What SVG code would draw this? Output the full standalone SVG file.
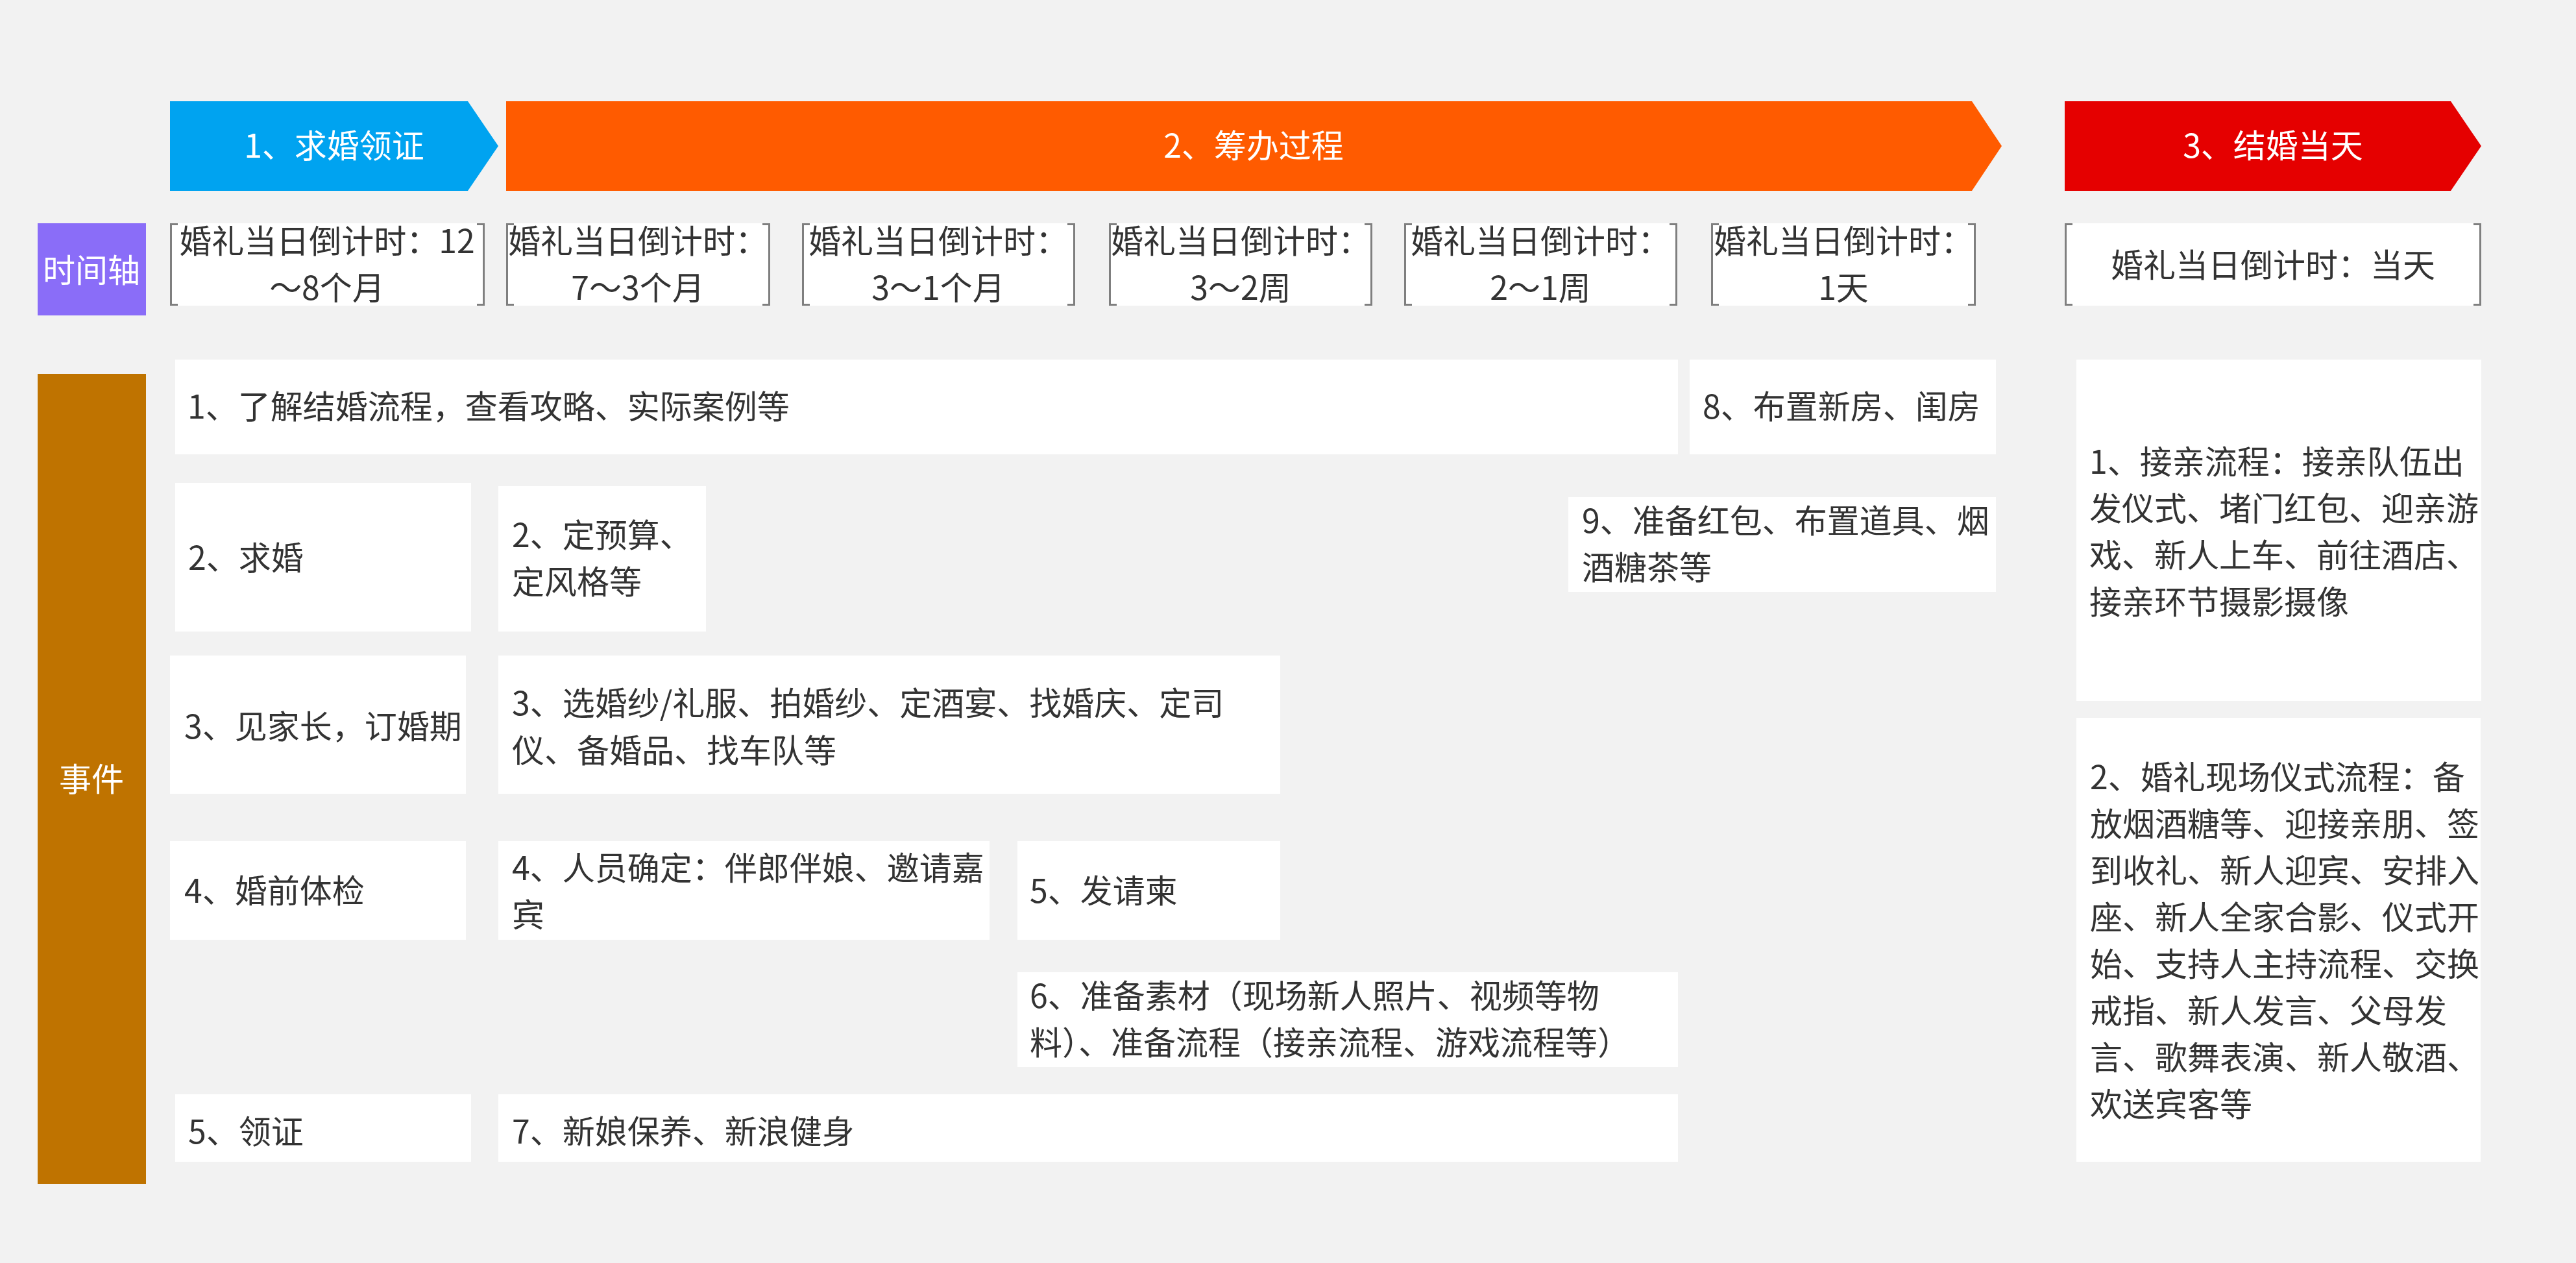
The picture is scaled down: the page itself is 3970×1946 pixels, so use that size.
<svg xmlns="http://www.w3.org/2000/svg" width="3970" height="1946" viewBox="0 0 3970 1946">
<style>
text{font-family:"Noto Sans CJK SC","Noto Sans",sans-serif;font-size:50px}
.w{fill:#ffffff}
.t{fill:#333333}
.c{text-anchor:middle}
.box{fill:#ffffff}
.br{fill:none;stroke:#7f7f7f;stroke-width:3}
</style>
<rect x="0" y="0" width="3970" height="1946" fill="#f2f2f2"/>

<g id="phase1">
<polygon points="262,156 721,156 768,225 721,294 262,294" fill="#00a3f0"/>
<text class="w c" x="515" y="243">1、求婚领证</text>
</g>
<g id="phase2">
<polygon points="780,156 3039,156 3085,225 3039,294 780,294" fill="#ff5b00"/>
<text class="w c" x="1932" y="243">2、筹办过程</text>
</g>
<g id="phase3">
<polygon points="3182,156 3777,156 3824,225 3777,294 3182,294" fill="#e50000"/>
<text class="w c" x="3503" y="243">3、结婚当天</text>
</g>

<g id="timeaxis">
<rect x="58" y="344" width="167" height="142" fill="#8a6df8"/>
<text class="w c" x="141" y="435">时间轴</text>
</g>

<g id="cd1">
<rect class="box" x="262" y="344" width="485" height="127"/>
<path class="br" d="M274,345.5H263.5V469.5H274M735,345.5H745.5V469.5H735"/>
<text class="t c" x="504" y="390">婚礼当日倒计时：12</text>
<text class="t c" x="504" y="462">～8个月</text>
</g>
<g id="cd2">
<rect class="box" x="780" y="344" width="407" height="127"/>
<path class="br" d="M792,345.5H781.5V469.5H792M1175,345.5H1185.5V469.5H1175"/>
<text class="t c" x="983" y="390">婚礼当日倒计时：</text>
<text class="t c" x="983" y="462">7～3个月</text>
</g>
<g id="cd3">
<rect class="box" x="1236" y="344" width="421" height="127"/>
<path class="br" d="M1248,345.5H1237.5V469.5H1248M1645,345.5H1655.5V469.5H1645"/>
<text class="t c" x="1446" y="390">婚礼当日倒计时：</text>
<text class="t c" x="1446" y="462">3～1个月</text>
</g>
<g id="cd4">
<rect class="box" x="1709" y="344" width="406" height="127"/>
<path class="br" d="M1721,345.5H1710.5V469.5H1721M2103,345.5H2113.5V469.5H2103"/>
<text class="t c" x="1912" y="390">婚礼当日倒计时：</text>
<text class="t c" x="1912" y="462">3～2周</text>
</g>
<g id="cd5">
<rect class="box" x="2164" y="344" width="421" height="127"/>
<path class="br" d="M2176,345.5H2165.5V469.5H2176M2573,345.5H2583.5V469.5H2573"/>
<text class="t c" x="2374" y="390">婚礼当日倒计时：</text>
<text class="t c" x="2374" y="462">2～1周</text>
</g>
<g id="cd6">
<rect class="box" x="2637" y="344" width="408" height="127"/>
<path class="br" d="M2649,345.5H2638.5V469.5H2649M3033,345.5H3043.5V469.5H3033"/>
<text class="t c" x="2841" y="390">婚礼当日倒计时：</text>
<text class="t c" x="2841" y="462">1天</text>
</g>
<g id="cd7">
<rect class="box" x="3182" y="344" width="642" height="127"/>
<path class="br" d="M3194,345.5H3183.5V469.5H3194M3812,345.5H3822.5V469.5H3812"/>
<text class="t c" x="3503" y="427">婚礼当日倒计时：当天</text>
</g>

<g id="events">
<rect x="58" y="576" width="167" height="1248" fill="#bf7300"/>
<text class="w c" x="141" y="1219">事件</text>
</g>

<g id="e1">
<rect class="box" x="270" y="554" width="2316" height="146"/>
<text class="t" x="289" y="645">1、了解结婚流程，查看攻略、实际案例等</text>
</g>
<g id="e8">
<rect class="box" x="2604" y="554" width="472" height="146"/>
<text class="t" x="2624" y="645">8、布置新房、闺房</text>
</g>
<g id="e2">
<rect class="box" x="270" y="744" width="456" height="229"/>
<text class="t" x="290" y="878">2、求婚</text>
</g>
<g id="e3">
<rect class="box" x="768" y="749" width="320" height="224"/>
<text class="t" x="789" y="843">2、定预算、</text>
<text class="t" x="789" y="915">定风格等</text>
</g>
<g id="e9">
<rect class="box" x="2417" y="766" width="659" height="146"/>
<text class="t" x="2438" y="821">9、准备红包、布置道具、烟</text>
<text class="t" x="2438" y="893">酒糖茶等</text>
</g>
<g id="e4">
<rect class="box" x="262" y="1010" width="456" height="213"/>
<text class="t" x="284" y="1138">3、见家长，订婚期</text>
</g>
<g id="e5">
<rect class="box" x="768" y="1010" width="1205" height="213"/>
<text class="t" x="789" y="1102">3、选婚纱/礼服、拍婚纱、定酒宴、找婚庆、定司</text>
<text class="t" x="789" y="1175">仪、备婚品、找车队等</text>
</g>
<g id="e6">
<rect class="box" x="262" y="1296" width="456" height="152"/>
<text class="t" x="284" y="1391">4、婚前体检</text>
</g>
<g id="e7">
<rect class="box" x="768" y="1296" width="757" height="152"/>
<text class="t" x="789" y="1356">4、人员确定：伴郎伴娘、邀请嘉</text>
<text class="t" x="789" y="1428">宾</text>
</g>
<g id="e10">
<rect class="box" x="1568" y="1296" width="405" height="152"/>
<text class="t" x="1587" y="1391">5、发请柬</text>
</g>
<g id="e11">
<rect class="box" x="1568" y="1498" width="1018" height="146"/>
<text class="t" x="1587" y="1553">6、准备素材（现场新人照片、视频等物</text>
<text class="t" x="1587" y="1625">料）、准备流程（接亲流程、游戏流程等）</text>
</g>
<g id="e12">
<rect class="box" x="270" y="1686" width="456" height="104"/>
<text class="t" x="290" y="1762">5、领证</text>
</g>
<g id="e13">
<rect class="box" x="768" y="1686" width="1818" height="104"/>
<text class="t" x="789" y="1762">7、新娘保养、新浪健身</text>
</g>

<g id="r1">
<rect class="box" x="3200" y="554" width="624" height="526"/>
<text class="t" x="3220" y="730">1、接亲流程：接亲队伍出</text>
<text class="t" x="3220" y="802">发仪式、堵门红包、迎亲游</text>
<text class="t" x="3220" y="874">戏、新人上车、前往酒店、</text>
<text class="t" x="3220" y="946">接亲环节摄影摄像</text>
</g>
<g id="r2">
<rect class="box" x="3200" y="1106" width="623" height="684"/>
<text class="t" x="3221" y="1216">2、婚礼现场仪式流程：备</text>
<text class="t" x="3221" y="1288">放烟酒糖等、迎接亲朋、签</text>
<text class="t" x="3221" y="1360">到收礼、新人迎宾、安排入</text>
<text class="t" x="3221" y="1432">座、新人全家合影、仪式开</text>
<text class="t" x="3221" y="1504">始、支持人主持流程、交换</text>
<text class="t" x="3221" y="1576">戒指、新人发言、父母发</text>
<text class="t" x="3221" y="1648">言、歌舞表演、新人敬酒、</text>
<text class="t" x="3221" y="1720">欢送宾客等</text>
</g>

<g id="connectors"/>
</svg>
